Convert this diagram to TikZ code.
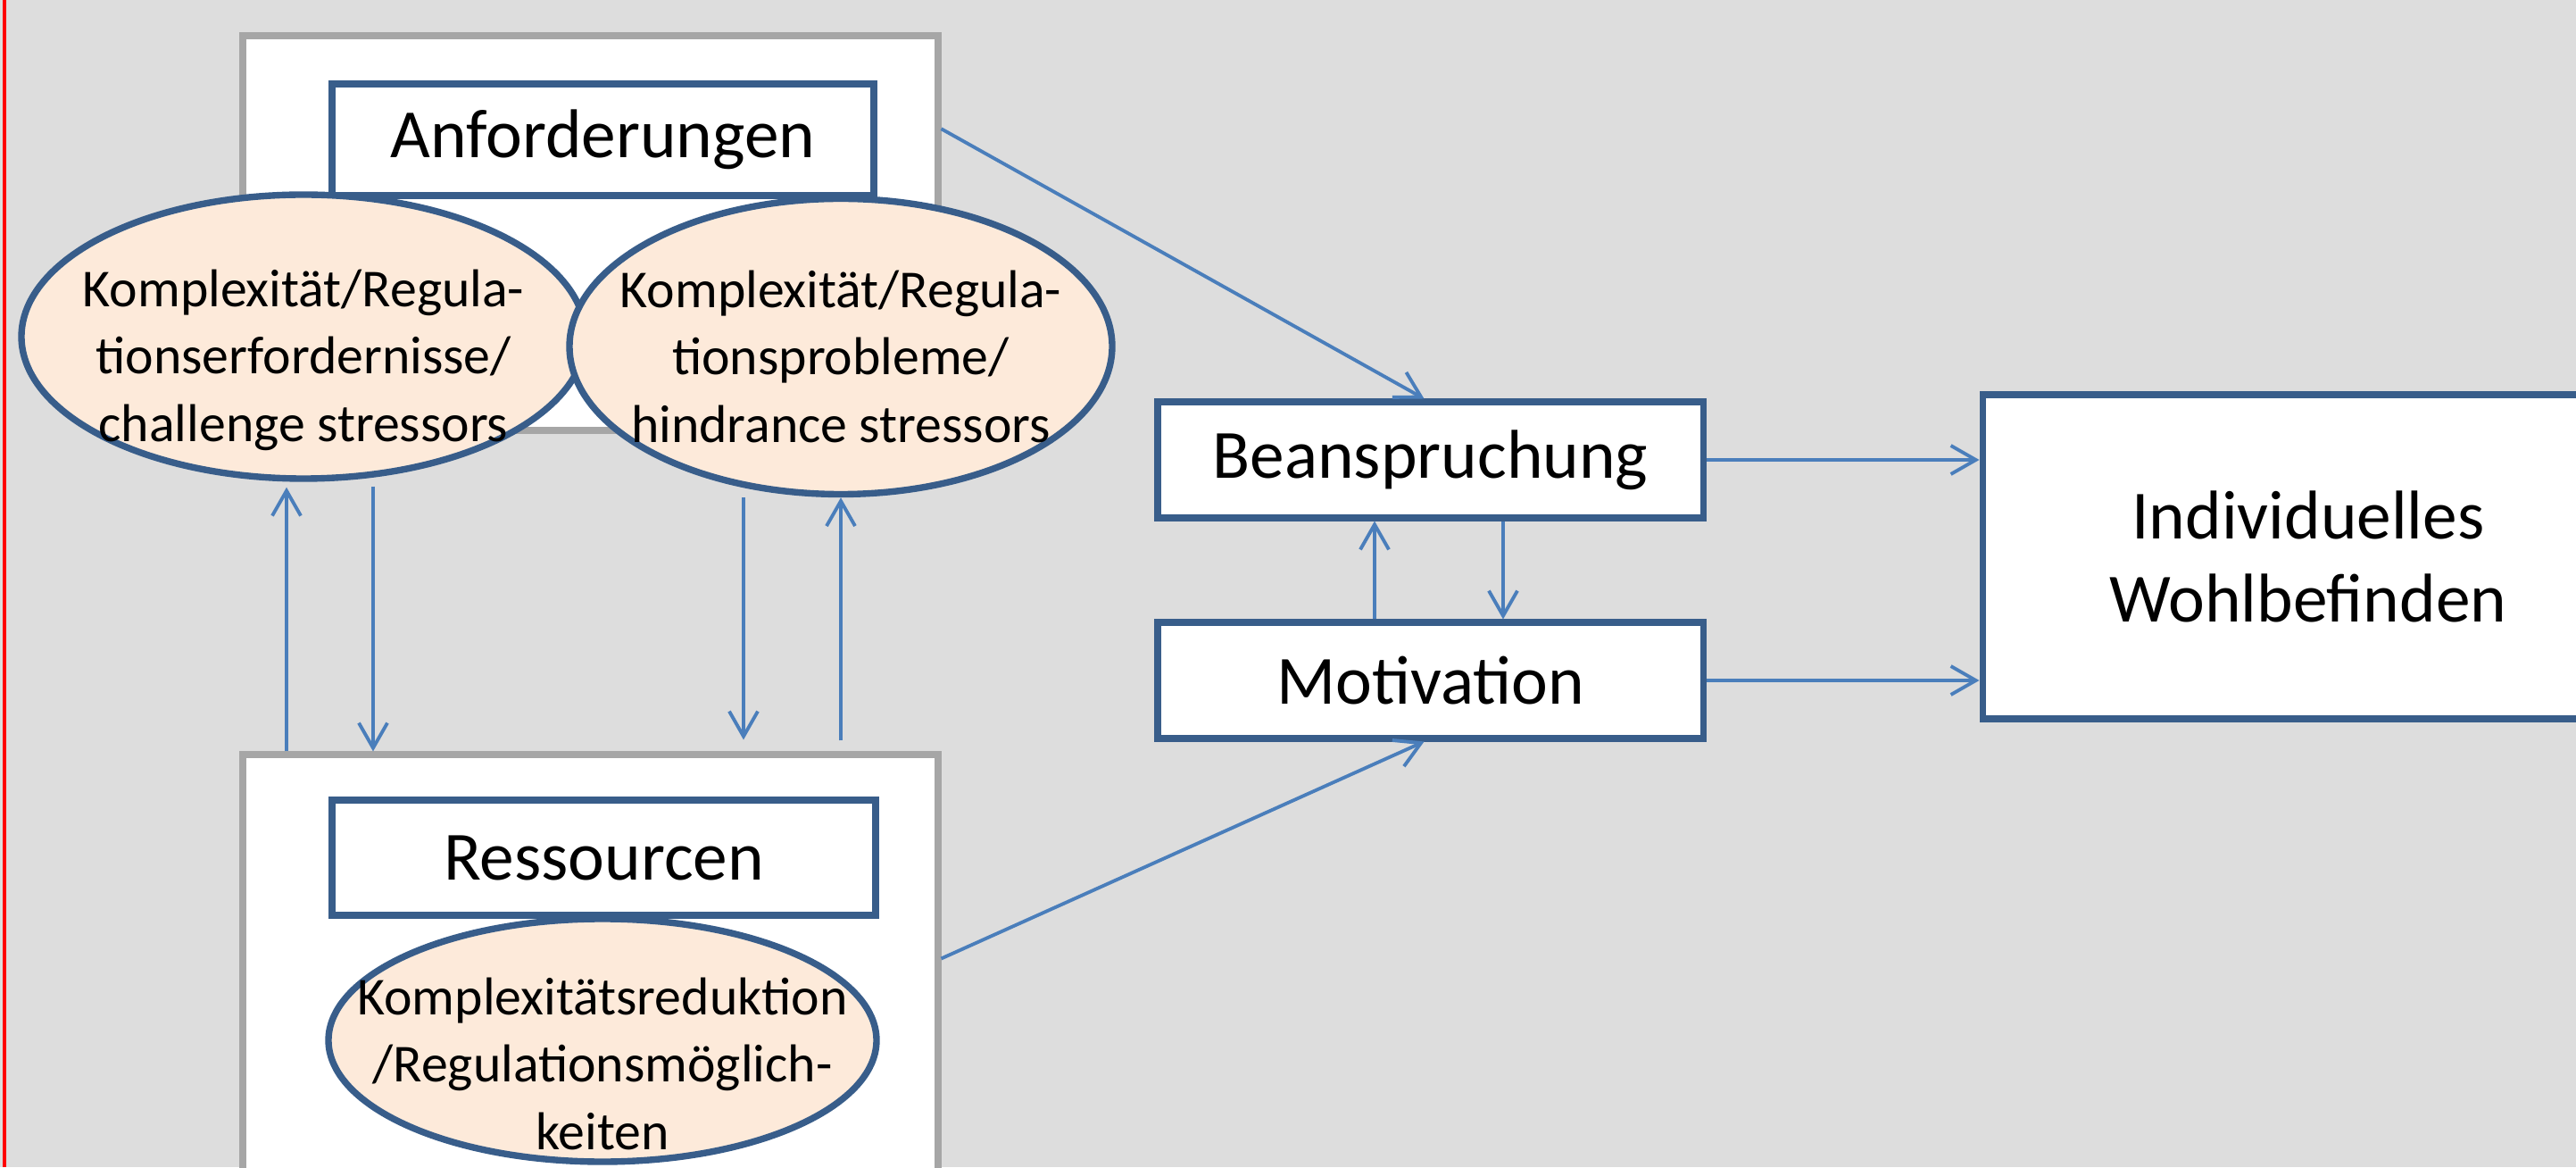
\documentclass[tikz,border=0pt]{standalone}
\usepackage{fontspec}
\setmainfont{Carlito}
\usetikzlibrary{arrows.meta,calc,positioning,shapes.geometric}
\definecolor{bgGray}{HTML}{DDDDDD}
\definecolor{frameGray}{HTML}{A6A6A6}
\definecolor{boxBlue}{HTML}{385D8A}
\definecolor{lineBlue}{HTML}{4A7EBB}
\definecolor{ovalFill}{HTML}{FDEADA}
\newcommand{\ovaltext}[2]{\makebox[0pt]{\raisebox{#1}[0pt][0pt]{\begin{tabular}{@{}c@{}}#2\end{tabular}}}}
\tikzset{
  link/.style={-{Straight Barb[length=0.28cm, width=0.32cm]}, line width=1.1pt, draw=lineBlue},
  block/.style={draw=boxBlue, line width=2pt, rectangle, fill=white, minimum width=6.07cm, minimum height=1.25cm, align=center, font=\fontsize{22}{26.5}\selectfont},
  panel/.style={draw=frameGray, line width=2pt, rectangle, fill=white, minimum width=7.79cm},
  oval/.style={draw=boxBlue, line width=2.1pt, ellipse, fill=ovalFill, inner sep=0pt, font=\fontsize{17}{21.5}\selectfont}
}

\begin{document}
\begin{tikzpicture}
  \clip (0,0) rectangle (28.86,13.07);
  \fill[bgGray] (0,0) rectangle (28.86,13.07);
  \draw[red, line width=0.9pt] (0.05,0) -- (0.05,13.07);

  \node[panel, minimum height=4.42cm] (topframe) at (6.615,10.46) {};
  \node[panel, minimum height=5.6cm] (lowframe) at (6.615,1.82) {};
  \node[block] (anf) at (6.755,11.505) {Anforderungen};
  \node[block, minimum width=6.09cm, minimum height=1.29cm] (res) at (6.765,3.465) {Ressourcen};

  \node[oval, minimum width=6.32cm, minimum height=3.18cm] (challenge) at (3.40,9.30)
    {\ovaltext{-0.42cm}{Komplexität/Regula-\\tionserfordernisse/\\challenge stressors}};
  \node[oval, minimum width=6.08cm, minimum height=3.31cm] (hindrance) at (9.42,9.19)
    {\ovaltext{-0.32cm}{Komplexität/Regula-\\tionsprobleme/\\hindrance stressors}};
  \node[oval, minimum width=6.14cm, minimum height=2.72cm] (reduktion) at (6.75,1.42)
    {\ovaltext{-0.47cm}{Komplexitätsreduktion\\/Regulationsmöglich-\\keiten}};

  \node[block, minimum width=6.11cm, minimum height=1.30cm] (bean) at (16.025,7.92) {Beanspruchung};
  \node[block, minimum width=6.11cm, minimum height=1.30cm] (motiv) at (16.025,5.45) {Motivation};
  \node[block, minimum width=7.30cm, minimum height=3.63cm] (wohl) at (25.86,6.835) {Individuelles\\Wohlbefinden};

  \coordinate (topout) at ($(topframe.north east)!0.24!(topframe.south east)$);
  \coordinate (lowout) at ($(lowframe.north east)+(0,-2.32)$);
  \coordinate (c1) at ($(challenge.south)+(-0.19,-0.06)$);
  \coordinate (c2) at ($(challenge.south)+(0.78,-0.05)$);
  \coordinate (h1) at ($(hindrance.south)+(-1.09,0)$);

  \draw[link] (topout) -- ($(bean.north)+(-0.07,0)$);
  \draw[link] (lowout) -- ($(motiv.south)+(-0.07,0)$);
  \draw[link] (bean.east) -- (bean.east -| wohl.west);
  \draw[link] (motiv.east) -- (motiv.east -| wohl.west);
  \draw[link] ([xshift=-0.625cm]motiv.north) -- ([xshift=-0.625cm]bean.south);
  \draw[link] ([xshift=0.815cm]bean.south) -- ([xshift=0.815cm]motiv.north);

  \draw[link] (c1 |- lowframe.north) -- (c1);
  \draw[link] (c2) -- (c2 |- lowframe.north);
  \draw[link] (h1) -- ($(h1 |- lowframe.north)+(0,0.13)$);
  \draw[link] ($(hindrance.south |- lowframe.north)+(0,0.12)$) -- (hindrance.south);
\end{tikzpicture}
\end{document}
